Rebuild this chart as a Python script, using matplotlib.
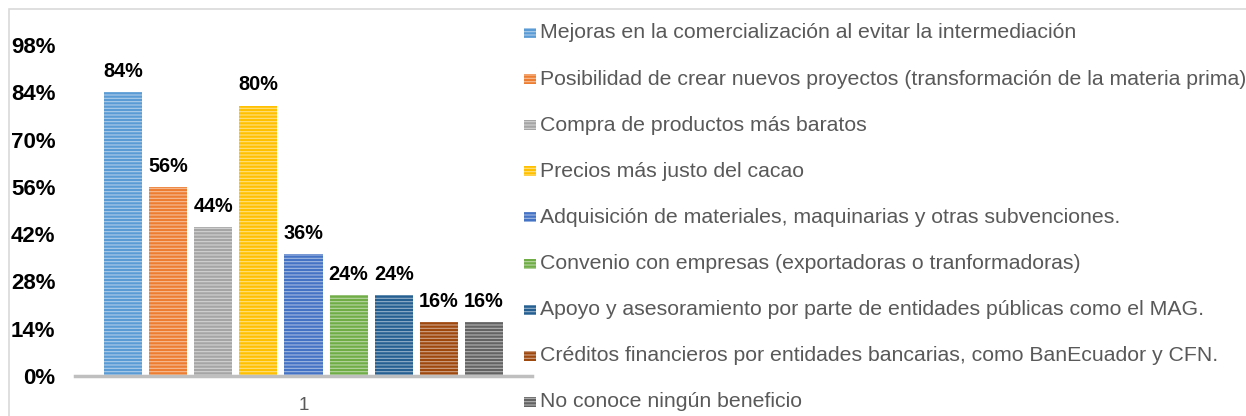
import matplotlib
matplotlib.use("Agg")
import matplotlib.pyplot as plt
from matplotlib.patches import Rectangle
import numpy as np

categories = [
    "Mejoras en la comercialización al evitar la intermediación",
    "Posibilidad de crear nuevos proyectos (transformación de la materia prima)",
    "Compra de productos más baratos",
    "Precios más justo del cacao",
    "Adquisición de materiales, maquinarias y otras subvenciones.",
    "Convenio con empresas (exportadoras o tranformadoras)",
    "Apoyo y asesoramiento por parte de entidades públicas como el MAG.",
    "Créditos financieros por entidades bancarias, como BanEcuador y CFN.",
    "No conoce ningún beneficio",
]
values = [0.84, 0.56, 0.44, 0.80, 0.36, 0.24, 0.24, 0.16, 0.16]
colors = ["#5B9BD5", "#ED7D31", "#A5A5A5", "#FFC000", "#4472C4",
          "#70AD47", "#255E91", "#9E480E", "#636363"]
yticks = [0, 0.14, 0.28, 0.42, 0.56, 0.70, 0.84, 0.98]
xcat = ["1"]

plt.rcParams["font.family"] = ["Liberation Sans", "DejaVu Sans"]
plt.rcParams["hatch.linewidth"] = 0.8

W, H = 1246, 416
fig = plt.figure(figsize=(W / 100, H / 100), dpi=100)


def lighten(c, f=0.5):
    rgb = np.array(matplotlib.colors.to_rgb(c))
    return tuple(rgb + (1 - rgb) * f)


# outer chart border
fig.add_artist(Rectangle((9 / W, -0.1), 1.2, (H - 9) / H + 0.1, transform=fig.transFigure,
                         fill=False, edgecolor="#D9D9D9", linewidth=1.2))

ax = fig.add_axes([75 / W, 40 / H, 457 / W, 331 / H])
x = np.arange(len(values))
for i, (v, c) in enumerate(zip(values, colors)):
    ax.bar(x[i], v, width=0.844, color=c, edgecolor=lighten(c), linewidth=0,
           hatch="-----")
    ax.annotate(f"{round(v * 100)}%", (x[i], v), xytext=(0, 15), textcoords="offset points",
                ha="center", va="center", fontsize=14.3, fontweight="bold", color="black",
                annotation_clip=False)

ax.set_xlim(-1.067, len(values) - 1 + 1.067)
ax.set_ylim(0, 0.98)
ax.set_yticks(yticks)
ax.set_yticklabels([f"{round(t * 100)}%" for t in yticks], fontsize=16, fontweight="bold")
ax.tick_params(axis="y", length=0, pad=14)
ax.set_xticks([(len(values) - 1) / 2])
ax.set_xticklabels(xcat, fontsize=13.5, color="#595959")
ax.tick_params(axis="x", length=0, pad=15)
for s in ["top", "right", "left"]:
    ax.spines[s].set_visible(False)
ax.spines["bottom"].set_color("#BFBFBF")
ax.spines["bottom"].set_linewidth(2.5)

# legend
y0 = 33
dy = 46.1
for i, (lab, c) in enumerate(zip(categories, colors)):
    yc = y0 + i * dy
    fig.add_artist(Rectangle((524 / W, (H - yc - 5) / H), 12 / W, 10 / H,
                             transform=fig.transFigure, facecolor=c,
                             edgecolor=lighten(c), linewidth=0, hatch="-----"))
    fig.text(540 / W, (H - yc) / H, lab, fontsize=15.3, color="#595959",
             ha="left", va="center")

fig.savefig("out.png", dpi=100)
